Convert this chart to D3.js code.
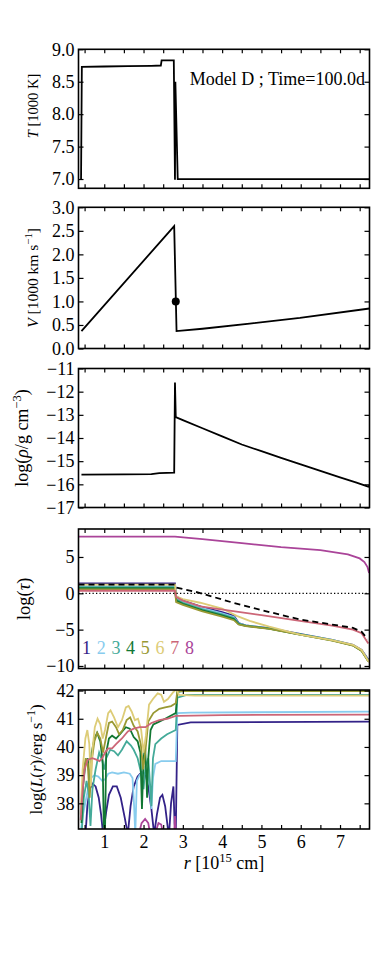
<!DOCTYPE html>
<html lang="en">
<head>
<meta charset="UTF-8">
<title>Model D ; Time=100.0d</title>
<script src="https://d3js.org/d3.v7.min.js"></script>
<style>
  body { margin: 0; background: #fff; }
  svg text { font-family: "Liberation Serif", "DejaVu Serif", serif; fill: #000; }
  .tick text { font-size: 18px; }
  .tick line { stroke: #000; stroke-width: 1.2px; }
</style>
</head>
<body>
<svg id="chart" width="390" height="976"></svg>
<script>
// ---- data ----
const rTicks = [0.5, 1, 1.5, 2, 2.5, 3, 3.5, 4, 4.5, 5, 5.5, 6, 6.5, 7, 7.5];
const tTicks = [7.0, 7.5, 8.0, 8.5, 9.0];
const vTicks = [0.0, 0.5, 1.0, 1.5, 2.0, 2.5, 3.0];
const rhoTicks = [-17, -16, -15, -14, -13, -12, -11];
const tauTicks = [-10, -5, 0, 5];
const lumTicks = [38, 39, 40, 41, 42];
const bandNames = ['1', '2', '3', '4', '5', '6', '7', '8'];
const bandColors = ['#332288', '#88CCEE', '#44AA99', '#117733', '#999933', '#DDCC77', '#CC6677', '#AA4499'];

const tempT = [[0.41, 6.99], [0.43, 8.73], [1.0, 8.735], [1.6, 8.74], [2.2, 8.745], [2.44, 8.75], [2.46, 8.83],
  [2.77, 8.83], [2.80, 6.99], [2.81, 8.5], [2.87, 7.0], [7.75, 7.0]];

const velV = [[0.42, 0.37], [2.78, 2.6], [2.84, 0.37], [3.5, 0.42], [4.7, 0.53], [5.98, 0.65], [7.75, 0.85]];
const velMark = [[2.82, 1.0]];

const logRho = [[0.42, -15.58], [1.5, -15.57], [2.2, -15.56], [2.4, -15.52], [2.78, -15.5], [2.80, -11.6],
  [2.82, -13.1], [3.0, -13.23], [3.5, -13.58], [4.0, -13.93], [4.5, -14.28], [5.0, -14.57], [5.5, -14.86],
  [6.0, -15.14], [6.5, -15.42], [7.0, -15.7], [7.4, -15.92], [7.72, -16.1], [7.75, -16.05]];

const tau1 = [[0.345, 1.35], [2.8, 1.35], [2.83, -0.4], [3.0, -1.0], [3.5, -1.9], [4.0, -2.6], [4.3, -3.1],
  [4.42, -4.1], [4.6, -4.4], [5.2, -4.8], [5.98, -5.6], [6.8, -6.4], [7.33, -7.1], [7.55, -7.8], [7.72, -9.1]];
const tau2 = [[0.345, 1.0], [2.8, 1.0], [2.83, -0.6], [3.0, -1.15], [3.5, -2.05], [4.0, -2.75], [4.3, -3.25],
  [4.42, -4.15], [4.6, -4.42], [5.2, -4.82], [5.98, -5.62], [6.8, -6.42], [7.33, -7.12], [7.55, -7.85], [7.72, -9.2]];
const tau3 = [[0.345, 0.85], [2.8, 0.85], [2.83, -0.8], [3.0, -1.3], [3.5, -2.2], [4.0, -2.9], [4.3, -3.4],
  [4.42, -4.2], [4.6, -4.45], [5.2, -4.85], [5.98, -5.65], [6.8, -6.45], [7.33, -7.15], [7.55, -7.9], [7.72, -9.3]];
const tau4 = [[0.345, 0.7], [2.8, 0.7], [2.83, -1.0], [3.0, -1.45], [3.5, -2.35], [4.0, -3.05], [4.3, -3.55],
  [4.42, -4.25], [4.6, -4.47], [5.2, -4.87], [5.98, -5.67], [6.8, -6.47], [7.33, -7.17], [7.55, -7.92], [7.72, -9.35]];
const tau5 = [[0.345, 0.55], [2.8, 0.55], [2.83, -1.2], [3.0, -1.6], [3.5, -2.5], [4.0, -3.2], [4.3, -3.7],
  [4.42, -4.3], [4.6, -4.5], [5.2, -4.9], [5.98, -5.7], [6.8, -6.5], [7.33, -7.2], [7.55, -7.95], [7.72, -9.4]];
const tau6 = [[0.345, 1.2], [2.8, 1.2], [2.83, -0.4], [3.0, -0.8], [3.44, -1.3], [4.0, -2.1], [4.37, -3.1],
  [4.7, -3.8], [5.2, -4.6], [5.98, -5.7], [6.8, -6.45], [7.33, -7.1], [7.55, -7.8], [7.74, -9.5]];
const tau7 = [[0.345, 0.35], [2.8, 0.35], [2.83, -0.5], [3.0, -1.0], [3.44, -1.8], [4.28, -2.45], [5.0, -3.0],
  [5.98, -3.8], [6.8, -4.45], [7.33, -5.0], [7.55, -5.5], [7.72, -6.9]];
const tau8 = [[0.345, 7.8], [2.8, 7.8], [3.5, 7.45], [4.5, 6.9], [5.5, 6.35], [6.5, 5.95], [7.2, 5.35],
  [7.5, 4.8], [7.62, 4.3], [7.7, 3.6], [7.74, 2.8]];
const tauMean = [[0.345, 1.2], [2.8, 1.2], [2.83, 0.8], [3.4, 0.1], [4.28, -1.3], [5.1, -2.45], [5.98, -3.6],
  [6.8, -4.3], [7.33, -4.75], [7.55, -5.3], [7.7, -6.3]];
const tauUnity = [[0.345, 0], [7.75, 0]];

const lum1 = [[0.52, 36.8], [0.57, 37.9], [0.63, 38.5], [0.70, 38.7], [0.78, 38.6], [0.86, 38.2], [0.92, 37.6],
  [0.97, 36.9], [1.05, 37.7], [1.12, 38.3], [1.22, 38.6], [1.32, 38.6], [1.42, 38.2], [1.52, 37.5], [1.6, 36.9],
  [1.67, 37.9], [1.75, 38.6], [1.85, 38.95], [1.95, 39.1], [2.05, 39.05], [2.12, 38.6], [2.2, 37.8], [2.27, 36.9],
  [2.34, 37.6], [2.42, 38.2], [2.48, 38.3], [2.55, 37.9], [2.62, 37.1], [2.65, 36.9], [2.7, 38.0], [2.76, 38.6],
  [2.79, 37.3], [2.82, 36.9], [2.86, 40.78], [3.2, 40.87], [7.75, 40.9]];
const lum2 = [[0.40, 37.0], [0.46, 37.6], [0.53, 38.1], [0.6, 38.6], [0.66, 38.9], [0.75, 39.0], [0.85, 38.95],
  [0.95, 38.8], [1.02, 38.85], [1.1, 39.05], [1.2, 39.1], [1.35, 39.05], [1.5, 39.1], [1.65, 39.05], [1.72, 38.9],
  [1.76, 37.9], [1.79, 36.9], [1.83, 38.8], [1.9, 39.0], [2.0, 39.1], [2.1, 39.0], [2.16, 38.6], [2.2, 37.8],
  [2.24, 38.9], [2.3, 39.4], [2.45, 39.5], [2.6, 39.5], [2.82, 39.5], [2.86, 41.2], [3.2, 41.22], [7.75, 41.25]];
const lum3 = [[0.42, 36.8], [0.48, 38.2], [0.55, 38.8], [0.6, 38.4], [0.65, 37.2], [0.7, 38.5], [0.78, 39.2],
  [0.87, 39.8], [0.95, 39.5], [1.0, 39.2], [1.05, 39.6], [1.15, 39.9], [1.25, 39.85], [1.35, 39.7], [1.45, 39.9],
  [1.57, 40.2], [1.68, 40.05], [1.75, 39.9], [1.85, 39.6], [1.95, 39.0], [2.0, 38.5], [2.05, 39.3], [2.12, 39.6],
  [2.17, 38.6], [2.2, 37.9], [2.24, 39.6], [2.3, 40.1], [2.45, 40.3], [2.6, 40.45], [2.82, 40.6], [2.86, 41.75],
  [3.1, 41.85], [7.75, 41.85]];
const lum4 = [[0.42, 37.3], [0.46, 38.6], [0.52, 39.4], [0.58, 39.6], [0.63, 38.8], [0.68, 39.8], [0.75, 40.3],
  [0.82, 40.5], [0.9, 40.2], [0.96, 39.5], [0.99, 37.0], [1.02, 37.0], [1.05, 39.8], [1.12, 40.3], [1.2, 40.4],
  [1.3, 40.3], [1.4, 40.45], [1.55, 40.7], [1.65, 40.65], [1.75, 40.35], [1.85, 40.2], [1.92, 39.8], [1.96, 37.8],
  [2.0, 39.6], [2.04, 40.0], [2.07, 39.0], [2.09, 38.2], [2.12, 39.6], [2.18, 40.6], [2.25, 40.8], [2.4, 40.9],
  [2.55, 41.0], [2.75, 41.15], [2.82, 41.2], [2.86, 41.95], [3.1, 42.0], [7.75, 42.0]];
const lum5 = [[0.42, 38.0], [0.47, 39.1], [0.53, 39.6], [0.58, 39.4], [0.63, 38.2], [0.68, 39.5], [0.75, 40.2],
  [0.82, 40.5], [0.90, 40.3], [0.97, 39.8], [1.04, 40.3], [1.12, 40.85], [1.2, 40.9], [1.3, 40.7], [1.38, 40.45],
  [1.47, 40.6], [1.57, 40.95], [1.66, 41.05], [1.75, 40.75], [1.85, 40.55], [1.93, 40.1], [1.99, 39.2], [2.05, 39.9],
  [2.12, 40.9], [2.25, 41.2], [2.4, 41.35], [2.55, 41.4], [2.7, 41.45], [2.82, 41.55], [2.86, 41.98], [3.3, 41.98],
  [7.75, 41.98]];
const lum6 = [[0.40, 37.6], [0.45, 39.2], [0.52, 40.3], [0.57, 40.6], [0.62, 40.1], [0.66, 38.6], [0.70, 39.9],
  [0.76, 40.7], [0.83, 41.0], [0.90, 40.8], [0.96, 40.3], [1.02, 40.6], [1.10, 41.2], [1.16, 41.3], [1.25, 41.05],
  [1.35, 40.7], [1.45, 40.95], [1.55, 41.4], [1.62, 41.45], [1.70, 41.25], [1.78, 40.95], [1.86, 41.0], [1.94, 40.6],
  [2.00, 39.8], [2.06, 40.4], [2.14, 41.5], [2.24, 41.7], [2.36, 41.9], [2.45, 41.85], [2.52, 41.6], [2.62, 41.7],
  [2.76, 41.95], [2.84, 42.05], [2.90, 41.85], [3.3, 41.82], [7.75, 41.82]];
const lum7 = [[0.40, 37.4], [0.44, 38.3], [0.5, 39.2], [0.58, 39.55], [0.7, 39.6], [0.8, 39.55], [0.88, 39.5],
  [0.95, 39.6], [1.02, 39.8], [1.1, 39.95], [1.2, 39.95], [1.3, 40.1], [1.45, 40.3], [1.6, 40.55], [1.75, 40.65],
  [1.9, 40.7], [2.05, 40.7], [2.2, 40.85], [2.4, 40.95], [2.6, 41.0], [2.82, 41.1], [2.9, 41.1], [4.0, 41.13],
  [7.75, 41.15]];
const lum8 = [[0.9, 36.95], [0.98, 37.1], [1.06, 37.0], [1.1, 36.95], null,
  [1.88, 36.9], [1.95, 37.3], [2.04, 37.45], [2.12, 37.3], [2.17, 36.9], null,
  [2.3, 36.95], [2.38, 37.3], [2.45, 37.25], [2.5, 36.9], null,
  [2.78, 36.9], [2.8, 37.55], [2.82, 36.9]];

const tauSeries = [tau1, tau2, tau3, tau4, tau5, tau6, tau7, tau8];
const lumSeries = [lum1, lum2, lum3, lum4, lum5, lum6, lum7, lum8];

// ---- layout ----
const svg = d3.select('#chart');
const X0 = 78.5, X1 = 369.5;
const x = d3.scaleLinear().domain([0.345, 7.75]).range([X0, X1]);

const panels = [
  { top: 49.3, bottom: 188.3, domain: [6.857, 9.0], ticks: tTicks, fmt: d3.format('.1f'), labelX: 38, labelY: 106, fs: 14.5,
    label: [['T', 'i'], [' [1000 K]']] },
  { top: 207.3, bottom: 348.5, domain: [0, 3], ticks: vTicks, fmt: d3.format('.1f'), labelX: 38, fs: 15.5,
    label: [['V', 'i'], [' [1000 km s'], ['\u22121', 'sup'], [']', 'unsup']] },
  { top: 368.5, bottom: 507.5, domain: [-17, -11], ticks: rhoTicks, fmt: d3.format('d'), labelX: 28, fs: 18,
    label: [['log('], ['\u03C1', 'i'], ['/g cm'], ['\u22123', 'sup'], [')', 'unsup']] },
  { top: 529, bottom: 668.5, domain: [-10.35, 8.85], ticks: tauTicks, fmt: d3.format('d'), labelX: 30, fs: 18.5,
    label: [['log('], ['\u03C4', 'i'], [')']] },
  { top: 690, bottom: 829, domain: [37.09, 42.02], ticks: lumTicks, fmt: d3.format('d'), labelX: 42, fs: 17,
    label: [['log('], ['L', 'i'], ['('], ['r', 'i'], [')/erg s'], ['\u22121', 'sup'], [')', 'unsup']] }
];

function addText(sel, parts, size) {
  parts.forEach(([s, kind]) => {
    const ts = sel.append('tspan').text(s);
    if (kind === 'i') ts.style('font-style', 'italic');
    if (kind === 'sup') ts.attr('dy', -size * 0.4).style('font-size', (size * 0.7) + 'px');
    if (kind === 'unsup') ts.attr('dy', size * 0.4);
  });
}

const defs = svg.append('defs');

function drawPanel(p, i, isLast) {
  const y = d3.scaleLinear().domain(p.domain).range([p.bottom, p.top]);
  defs.append('clipPath').attr('id', 'clip' + i)
    .append('rect').attr('x', X0).attr('y', p.top).attr('width', X1 - X0).attr('height', p.bottom - p.top);

  const g = svg.append('g');
  const plot = g.append('g').attr('clip-path', `url(#clip${i})`);

  g.append('g').attr('transform', `translate(${X0},0)`)
    .call(d3.axisLeft(y).tickValues(p.ticks).tickSize(-5).tickPadding(4).tickFormat(p.fmt));
  g.append('g').attr('transform', `translate(${X1},0)`)
    .call(d3.axisRight(y).tickValues(p.ticks).tickSize(-5).tickFormat(''));
  g.append('g').attr('transform', `translate(0,${p.top})`)
    .call(d3.axisTop(x).tickValues(rTicks).tickSize(-4).tickFormat(''));
  g.append('g').attr('transform', `translate(0,${p.bottom})`)
    .call(d3.axisBottom(x).tickValues(rTicks).tickSize(-4).tickPadding(6)
      .tickFormat(d => (isLast && Number.isInteger(d)) ? d : ''));
  g.selectAll('.domain').remove();

  g.append('rect')
    .attr('x', X0).attr('y', p.top).attr('width', X1 - X0).attr('height', p.bottom - p.top)
    .attr('fill', 'none').attr('stroke', '#000').attr('stroke-width', 1.6);

  const cy = p.labelY !== undefined ? p.labelY : (p.top + p.bottom) / 2;
  const lab = g.append('text')
    .attr('transform', `translate(${p.labelX},${cy}) rotate(-90)`)
    .attr('text-anchor', 'middle')
    .style('font-size', p.fs + 'px');
  addText(lab, p.label, p.fs);

  return { y, plot, g };
}

const line = y => d3.line().defined(d => d).x(d => x(d[0])).y(d => y(d[1]));

// panel 1: temperature
const p1 = drawPanel(panels[0], 0, false);
p1.plot.append('path').datum(tempT).attr('d', line(p1.y))
  .attr('fill', 'none').attr('stroke', '#000').attr('stroke-width', 1.8);
p1.g.append('text').attr('x', 365).attr('y', 85).attr('text-anchor', 'end')
  .style('font-size', '18px').text('Model D ; Time=100.0d');

// panel 2: velocity
const p2 = drawPanel(panels[1], 1, false);
p2.plot.append('path').datum(velV).attr('d', line(p2.y))
  .attr('fill', 'none').attr('stroke', '#000').attr('stroke-width', 1.8);
p2.plot.selectAll('circle').data(velMark).enter().append('circle')
  .attr('cx', d => x(d[0])).attr('cy', d => p2.y(d[1])).attr('r', 4).attr('fill', '#000');

// panel 3: density
const p3 = drawPanel(panels[2], 2, false);
p3.plot.append('path').datum(logRho).attr('d', line(p3.y))
  .attr('fill', 'none').attr('stroke', '#000').attr('stroke-width', 1.8);

// panel 4: optical depth
const p4 = drawPanel(panels[3], 3, false);
tauSeries.forEach((s, k) => {
  p4.plot.append('path').datum(s).attr('d', line(p4.y))
    .attr('fill', 'none').attr('stroke', bandColors[k]).attr('stroke-width', 1.8);
});
p4.plot.append('path').datum(tauMean).attr('d', line(p4.y))
  .attr('fill', 'none').attr('stroke', '#000').attr('stroke-width', 1.8).attr('stroke-dasharray', '6,4');
p4.plot.append('path').datum(tauUnity).attr('d', line(p4.y))
  .attr('fill', 'none').attr('stroke', '#000').attr('stroke-width', 1.3).attr('stroke-dasharray', '1.3,2.2');
p4.g.selectAll('.band').data(bandNames).enter().append('text')
  .attr('class', 'band')
  .attr('x', (d, k) => 82 + k * 14.7).attr('y', 654)
  .style('font-size', '18px').style('fill', (d, k) => bandColors[k])
  .text(d => d);

// panel 5: luminosity
const p5 = drawPanel(panels[4], 4, true);
lumSeries.forEach((s, k) => {
  p5.plot.append('path').datum(s).attr('d', line(p5.y))
    .attr('fill', 'none').attr('stroke', bandColors[k]).attr('stroke-width', 1.8);
});
const xl = svg.append('text').attr('x', (X0 + X1) / 2).attr('y', 869).attr('text-anchor', 'middle')
  .style('font-size', '18px');
addText(xl, [['r', 'i'], [' [10'], ['15', 'sup'], [' cm]', 'unsup']], 18);
</script>
</body>
</html>
